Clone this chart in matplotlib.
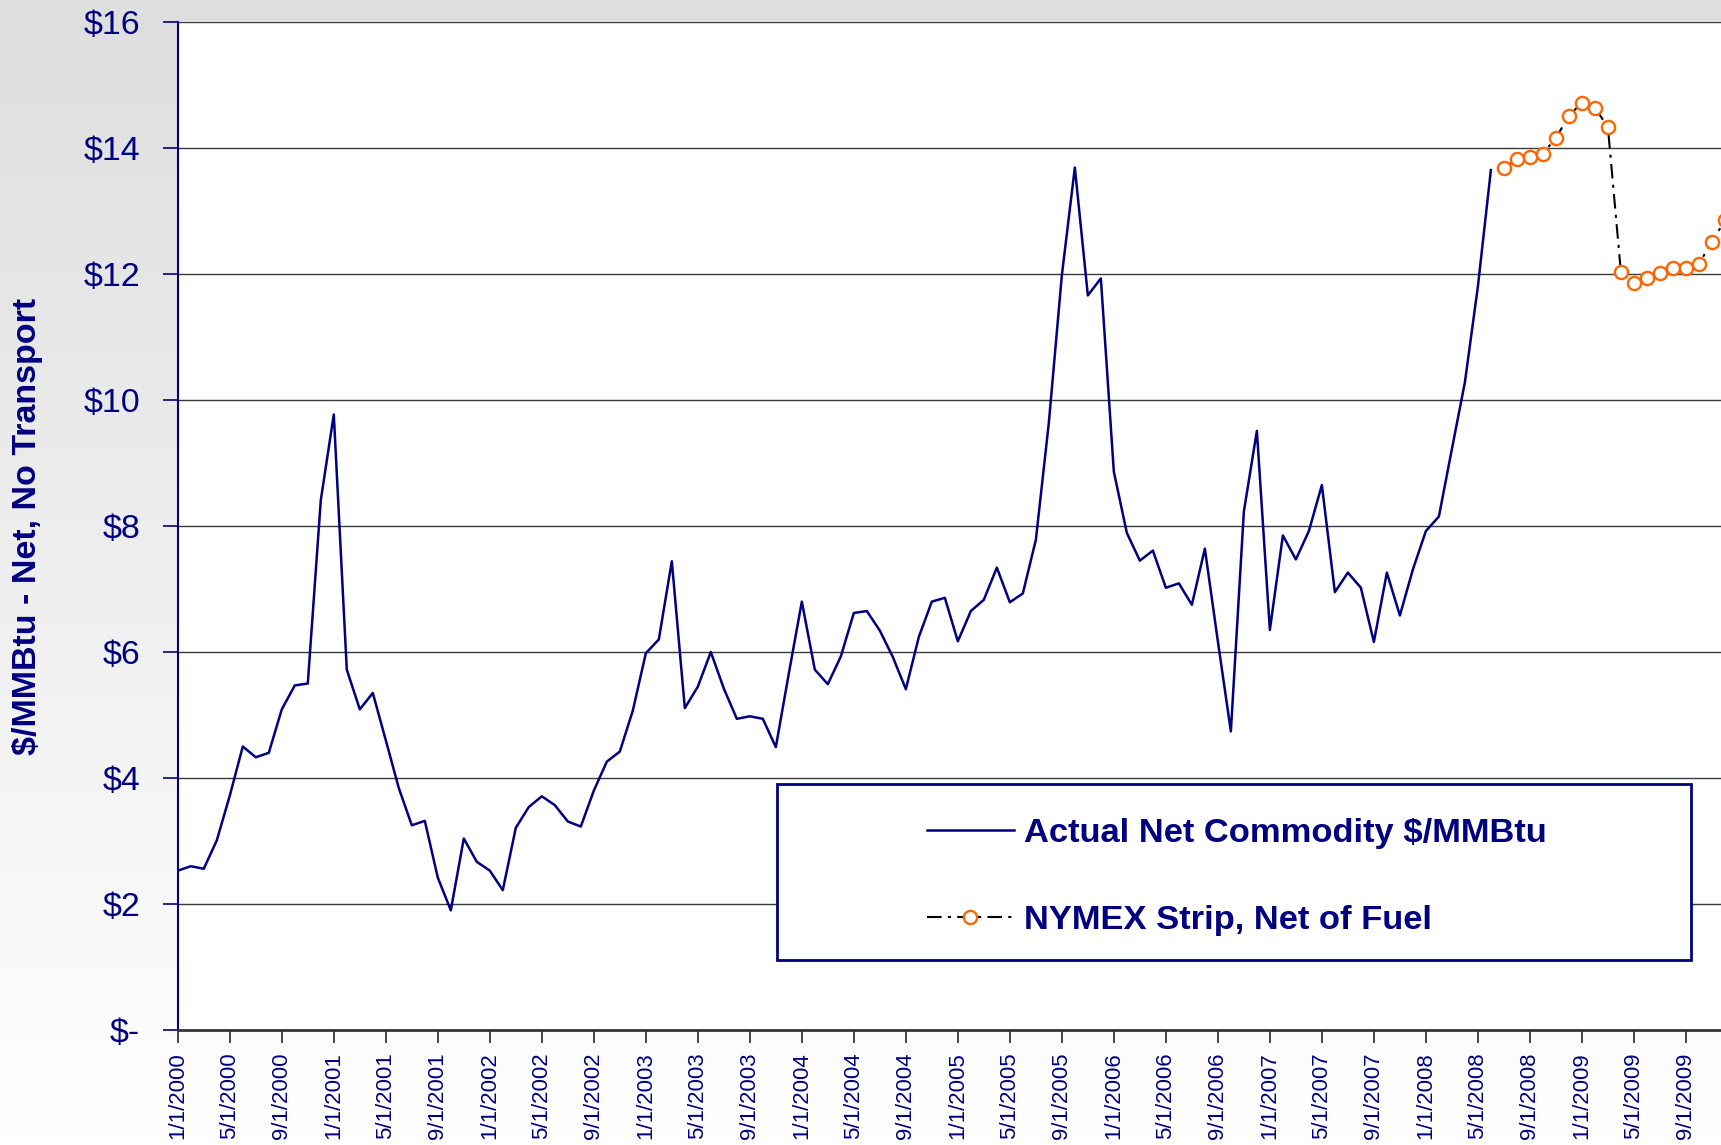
import numpy as np
import matplotlib
matplotlib.use("agg")
import matplotlib.pyplot as plt
from matplotlib.patches import Rectangle

plt.rcParams["font.family"] = ["Liberation Sans", "DejaVu Sans"]

NAVY = "#000080"
ORANGE = "#FF6600"

# monthly values, first point = 1/1/2000
actual_values = [
    2.53, 2.60, 2.56, 3.01, 3.72, 4.50, 4.33, 4.40, 5.09, 5.47, 5.50, 8.41,
    9.77, 5.72, 5.09, 5.35, 4.60, 3.84, 3.25, 3.32, 2.42, 1.90, 3.04, 2.67,
    2.53, 2.22, 3.21, 3.54, 3.71, 3.57, 3.31, 3.23, 3.80, 4.26, 4.42, 5.07,
    5.98, 6.20, 7.44, 5.11, 5.45, 6.00, 5.42, 4.94, 4.98, 4.94, 4.49, 5.66,
    6.80, 5.72, 5.49, 5.93, 6.62, 6.65, 6.34, 5.92, 5.41, 6.24, 6.80, 6.86,
    6.17, 6.65, 6.83, 7.34, 6.79, 6.93, 7.78, 9.64, 11.98, 13.69, 11.66, 11.93,
    8.86, 7.89, 7.45, 7.61, 7.02, 7.09, 6.75, 7.64, 6.17, 4.74, 8.23, 9.51,
    6.35, 7.85, 7.47, 7.92, 8.65, 6.95, 7.26, 7.02, 6.16, 7.26, 6.58, 7.31,
    7.92, 8.15, 9.22, 10.28, 11.80, 13.65,
]
# NYMEX strip starts 7/1/2008 (month index 102)
nymex_start = 102
nymex_values = [
    13.68, 13.82, 13.85, 13.91, 14.16, 14.51, 14.72, 14.64, 14.33,
    12.03, 11.86, 11.93, 12.02, 12.09, 12.09, 12.16, 12.51, 12.85,
]

tick_labels = [
    "1/1/2000", "5/1/2000", "9/1/2000", "1/1/2001", "5/1/2001", "9/1/2001",
    "1/1/2002", "5/1/2002", "9/1/2002", "1/1/2003", "5/1/2003", "9/1/2003",
    "1/1/2004", "5/1/2004", "9/1/2004", "1/1/2005", "5/1/2005", "9/1/2005",
    "1/1/2006", "5/1/2006", "9/1/2006", "1/1/2007", "5/1/2007", "9/1/2007",
    "1/1/2008", "5/1/2008", "9/1/2008", "1/1/2009", "5/1/2009", "9/1/2009",
]
y_ticks = [0, 2, 4, 6, 8, 10, 12, 14, 16]
y_tick_labels = ["$-", "$2", "$4", "$6", "$8", "$10", "$12", "$14", "$16"]

fig = plt.figure(figsize=(17.21, 11.45), dpi=100)

# gray -> white background gradient
bg = fig.add_axes([0, 0, 1, 1], zorder=-10)
grad = np.linspace(0, 1, 256).reshape(-1, 1)
bg.imshow(grad, aspect="auto", cmap=matplotlib.colors.LinearSegmentedColormap.from_list(
    "g", ["#dedede", "#ffffff"]), extent=[0, 1, 0, 1])
bg.axis("off")

ax = fig.add_axes([0.1033, 0.1004, 0.8967, 0.8804])
ax.set_facecolor("white")

x_act = np.arange(len(actual_values))
x_ny = np.arange(nymex_start, nymex_start + len(nymex_values))

ax.plot(x_act, actual_values, color=NAVY, lw=1.8, label="Actual Net Commodity $/MMBtu", zorder=3)
ax.plot(x_ny, nymex_values, color="black", lw=1.5, linestyle=(0, (7, 3, 1.5, 3)),
        marker="o", markersize=9.5, markerfacecolor="white", markeredgecolor=ORANGE,
        markeredgewidth=1.7, label="NYMEX Strip, Net of Fuel", zorder=3)

ax.set_ylim(0, 16)
ax.set_xlim(0, 118.7)
ax.set_yticks(y_ticks)
ax.set_yticklabels(y_tick_labels)
ax.set_xticks(np.arange(0, 4 * len(tick_labels), 4))
ax.set_xticklabels(tick_labels, rotation=90)

for v in y_ticks[1:]:
    ax.axhline(v, color="#3a3a3a", lw=1.0, zorder=1)

ax.tick_params(axis="y", colors=NAVY, labelsize=24.5, length=11, width=1.2, pad=16, direction="out")
ax.tick_params(axis="x", colors="#222222", labelcolor=NAVY, labelsize=16, length=9, width=1.2, pad=7)

for s in ["top", "right"]:
    ax.spines[s].set_visible(False)
ax.spines["left"].set_color(NAVY)
ax.spines["left"].set_linewidth(1.5)
ax.spines["bottom"].set_color("#333333")
ax.spines["bottom"].set_linewidth(2.0)

fig.text(27.5 / 1721, 0.5406, "$/MMBtu - Net, No Transport", rotation=90, ha="center", va="center",
         color=NAVY, fontsize=24.5, fontweight="bold")

# legend box
box = Rectangle((777 / 1721, 1 - 960 / 1145), (1691 - 777) / 1721, (960 - 784) / 1145,
                transform=fig.transFigure, facecolor="white", edgecolor=NAVY, lw=2.0, zorder=5)
fig.patches.append(box)
leg = fig.legend(loc="center", bbox_to_anchor=((777 + 1691) / 2 / 1721 + 3 / 1721,
                                               1 - (784 + 960) / 2 / 1145 - 5 / 1145),
                 frameon=False, handlelength=2.5, handletextpad=0.3, labelspacing=1.6,
                 prop={"weight": "bold", "size": 24.8})
for t in leg.get_texts():
    t.set_color(NAVY)
leg.set_zorder(6)

fig.savefig("out.png", dpi=100)
